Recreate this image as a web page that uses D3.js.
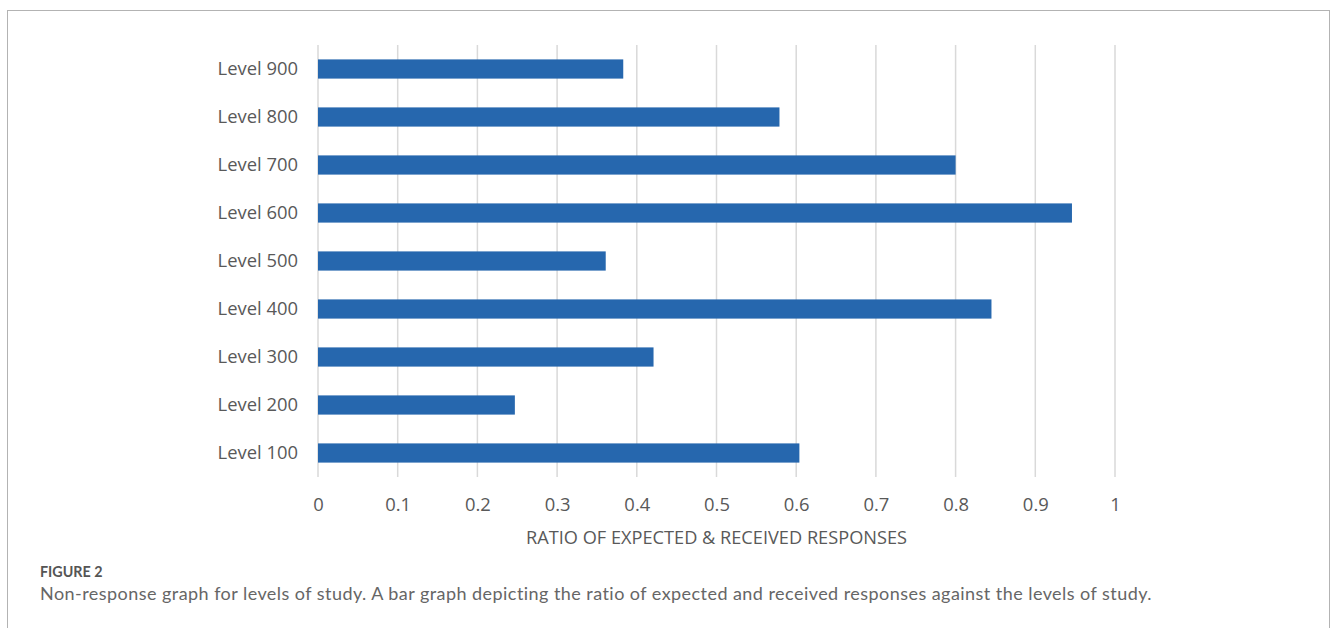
<!DOCTYPE html>
<html>
<head>
<meta charset="utf-8">
<script src="https://cdn.jsdelivr.net/npm/d3@7"></script>
<style>
  html, body { margin: 0; padding: 0; background: #fff; }
  svg { display: block; }
</style>
</head>
<body>
<script>
// Levels of study, top to bottom as drawn
const levels = ["Level 900", "Level 800", "Level 700", "Level 600", "Level 500",
                "Level 400", "Level 300", "Level 200", "Level 100"];
// Ratio of expected to received responses per level
const ratios = [0.383, 0.579, 0.800, 0.946, 0.361, 0.845, 0.421, 0.247, 0.604];
const xTicks = [0, 0.1, 0.2, 0.3, 0.4, 0.5, 0.6, 0.7, 0.8, 0.9, 1];

const W = 1331, H = 628;
const plot = { left: 318, right: 1115, top: 45, bottom: 477 };

const svg = d3.select("body").append("svg")
  .attr("width", W).attr("height", H);

// Figure frame
svg.append("rect")
  .attr("x", 7.5).attr("y", 10.5)
  .attr("width", 1322).attr("height", 640)
  .attr("fill", "none").attr("stroke", "#b3b3b3").attr("stroke-width", 1);

const x = d3.scaleLinear().domain([0, 1]).range([plot.left, plot.right]);
const y = d3.scaleBand().domain(levels).range([plot.top, plot.bottom]).paddingInner(0.6).paddingOuter(0.3);

const font = "'Open Sans', sans-serif";

// Vertical gridlines
svg.append("g")
  .selectAll("line").data(xTicks).join("line")
  .attr("x1", d => x(d)).attr("x2", d => x(d))
  .attr("y1", plot.top).attr("y2", plot.bottom)
  .attr("stroke", "#d9d9d9").attr("stroke-width", 1.5);

// Bars
svg.append("g")
  .selectAll("rect").data(levels).join("rect")
  .attr("x", x(0))
  .attr("y", d => y(d))
  .attr("width", (d, i) => x(ratios[i]) - x(0))
  .attr("height", y.bandwidth())
  .attr("fill", "#2667ae");

// Category axis
const yAxis = svg.append("g")
  .attr("transform", `translate(${plot.left},0)`)
  .call(d3.axisLeft(y).tickSize(0).tickPadding(20));
yAxis.select(".domain").remove();
yAxis.selectAll("text")
  .attr("font-family", font).attr("font-size", 18.4).attr("fill", "#595959");

// Value axis
const xAxis = svg.append("g")
  .attr("transform", `translate(0,${plot.bottom})`)
  .call(d3.axisBottom(x).tickValues(xTicks).tickFormat(d3.format("")).tickSize(0).tickPadding(21));
xAxis.select(".domain").remove();
xAxis.selectAll("text")
  .attr("font-family", font).attr("font-size", 18.4).attr("fill", "#595959");

// Axis title
svg.append("text")
  .attr("x", x(0.5)).attr("y", 544)
  .attr("text-anchor", "middle")
  .attr("font-family", font).attr("font-size", 18.2).attr("fill", "#595959")
  .text("RATIO OF EXPECTED & RECEIVED RESPONSES");

// Caption
svg.append("text")
  .attr("x", 40).attr("y", 577)
  .attr("font-family", "Lato, sans-serif").attr("font-size", 14.3).attr("font-weight", 700)
  .attr("fill", "#555")
  .text("FIGURE 2");
svg.append("text")
  .attr("x", 40).attr("y", 600)
  .attr("font-family", "Lato, sans-serif").attr("font-size", 18).attr("fill", "#666")
  .attr("letter-spacing", 0.45)
  .text("Non-response graph for levels of study. A bar graph depicting the ratio of expected and received responses against the levels of study.");
</script>
</body>
</html>
